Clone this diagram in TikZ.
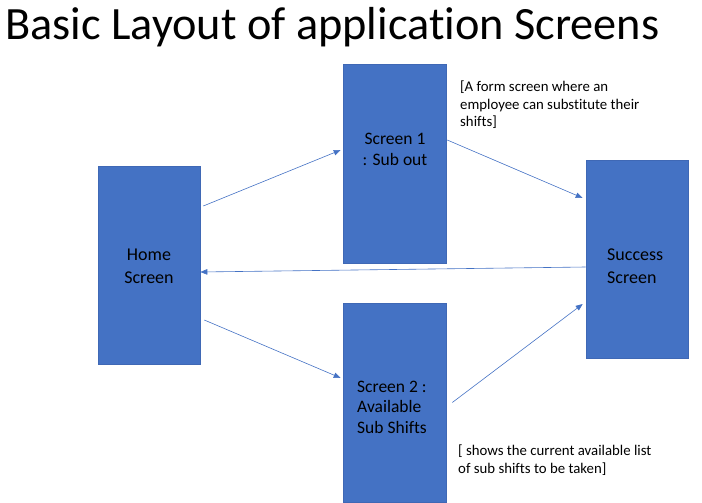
\documentclass[tikz,border=0pt]{standalone}
\usepackage{fontspec}
\setmainfont{Carlito}[Ligatures=NoCommon]
\usetikzlibrary{arrows.meta}
\definecolor{boxblue}{HTML}{4472C4}
\definecolor{boxedge}{HTML}{3F68B5}
\begin{document}
\begin{tikzpicture}[x=1pt,y=-1pt,
  box/.style={draw=boxedge, line width=0.6pt, fill=boxblue, minimum width=102pt, minimum height=198pt, inner sep=0pt},
  boxtext/.style={font=\fontsize{18}{23}\selectfont, inner sep=0pt},
  tighttext/.style={font=\fontsize{17.5}{20.5}\selectfont, inner sep=0pt},
  note/.style={font=\fontsize{14.8}{17.5}\selectfont, align=left, inner sep=0pt, anchor=west},
  link/.style={draw=boxblue, line width=0.6pt, -{Triangle[length=7pt,width=5.5pt]}}]
\useasboundingbox (0,0) rectangle (702,503);
\node[font=\fontsize{46.3}{52}\selectfont, anchor=base west, inner sep=0pt] (title) at (5,40) {Basic Layout of application Screens};

\node[box] (home) at (149,265) {};
\node[box, minimum width=103pt, minimum height=199pt] (s1) at (394.5,163.5) {};
\node[box, minimum width=103pt, minimum height=199pt] (s2) at (394.5,402.5) {};
\node[box] (succ) at (637,259) {};

\node[boxtext, align=center] (homet) at (149,266) {Home\\Screen};
\node[tighttext, align=center] (s1t) at (395,149.5) {Screen 1\\: Sub out};
\node[tighttext, align=left, anchor=west] (s2t) at (357,407) {Screen 2 :\\Available\\Sub Shifts};
\node[boxtext, align=left, anchor=west] (succt) at (607,266) {Success\\Screen};

\node[note] (n1) at (460,105) {[A form screen where an\\employee can substitute their\\shifts]};
\node[note] (n2) at (458,460) {[ shows the current available list\\of sub shifts to be taken]};

\draw[link] ([xshift=3pt,yshift=59pt]home.east) -- ([xshift=-2pt,yshift=13.5pt]s1.west);
\draw[link] ([xshift=1pt,yshift=23.5pt]s1.east) -- ([xshift=-3pt,yshift=61pt]succ.west);
\draw[link] ([yshift=-8pt]succ.west) -- ([yshift=-7pt]home.east);
\draw[link] ([xshift=4pt,yshift=-55pt]home.east) -- ([xshift=-2pt,yshift=24.5pt]s2.west);
\draw[link] ([xshift=6pt]s2.east) -- ([xshift=-3pt,yshift=-45pt]succ.west);
\end{tikzpicture}
\end{document}
